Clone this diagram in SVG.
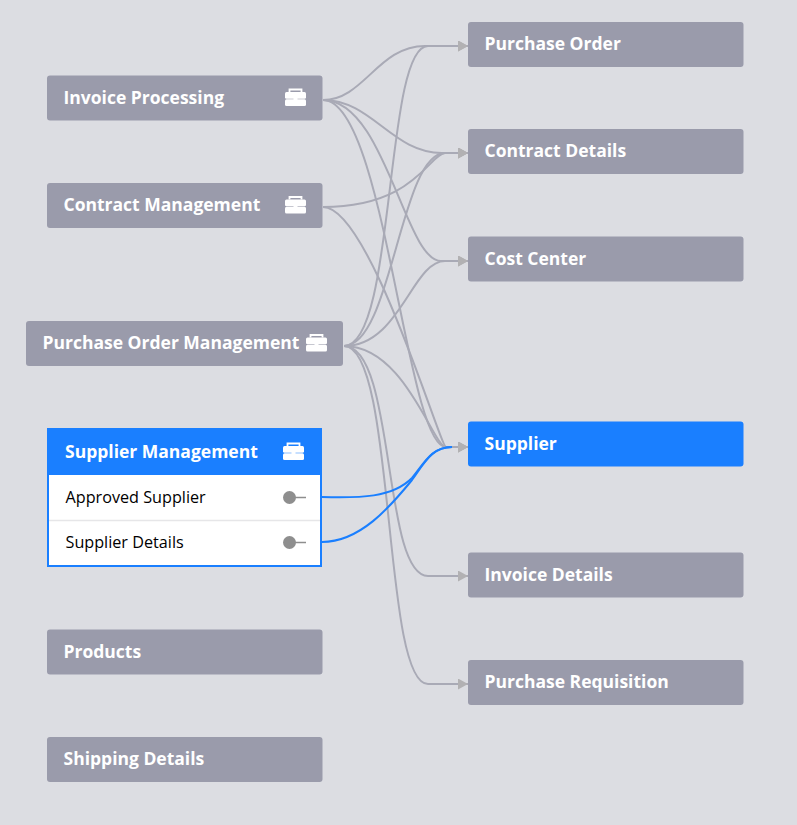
<svg xmlns="http://www.w3.org/2000/svg" width="797" height="825" viewBox="0 0 797 825">
<style>
text{font-family:"Open Sans","Noto Sans","Liberation Sans",sans-serif}
.box{fill:#9a9bab}
.t{fill:#fff;font-size:17.5px;font-weight:700}
.r{fill:#000;font-size:16.2px}
.c{fill:none;stroke:#a9aab6;stroke-width:2}
.b{fill:none;stroke:#1a7fff;stroke-width:2}
.key{fill:#8e8e8e}
.keyl{stroke:#8e8e8e;stroke-width:1.5}
</style>
<defs>
<marker id="arrow" markerUnits="userSpaceOnUse" markerWidth="11" markerHeight="11" refX="10" refY="5.500" orient="auto"><path d="M0 0L10 5.500L0 11Z" fill="#b2b1b3"/></marker>
<g id="case"><path d="M-6 -6V-8.500H6V-6" fill="none" stroke="#fff" stroke-width="1.800"/><rect x="-10.500" y="-6" width="21" height="6.800" rx="1.500" fill="#fff"/><rect x="-10.500" y="1.300" width="21" height="6.700" rx="1.500" fill="#fff"/><rect x="-2" y="-0.300" width="4" height="2.600" fill="#fff"/></g>
</defs>
<rect width="797" height="825" fill="#dcdde2"/>
<g id="connectors">
<path class="c" d="M323 100C364 100 378 46 425 46H468" marker-end="url(#arrow)"/>
<path class="c" d="M323 100C372 100 392 153 442 153H468" marker-end="url(#arrow)"/>
<path class="c" d="M323 100C385 100 405 261 441 261H468" marker-end="url(#arrow)"/>
<path class="c" d="M323 100C385 100 406 447 446 447H468" marker-end="url(#arrow)"/>
<path class="c" d="M323 207C415 207 430 153 445 153H468" marker-end="url(#arrow)"/>
<path class="c" d="M323 207C370 207 440 447 446 447H468" marker-end="url(#arrow)"/>
<path class="c" d="M344 346C396 346 384 46 428 46H468" marker-end="url(#arrow)"/>
<path class="c" d="M344 346C392 346 400 153 445 153H468" marker-end="url(#arrow)"/>
<path class="c" d="M344 346C400 346 412 261 445 261H468" marker-end="url(#arrow)"/>
<path class="c" d="M344 346C405 346 433 447 446 447H468" marker-end="url(#arrow)"/>
<path class="c" d="M344 346C396 346 382 576 428 576H468" marker-end="url(#arrow)"/>
<path class="c" d="M344 346C396 346 382 684 428 684H468" marker-end="url(#arrow)"/>
<path class="b" d="M322 497C360 498 392 498 412 478C425 462 432 447 452 447"/>
<path class="b" d="M322 542C360 542 390 507 412 480C425 462 432 447 452 447"/>
</g>
<g id="invoice-processing"><rect class="box" x="47" y="75.500" width="275.500" height="45" rx="3"/><text class="t" x="63.500" y="103.500">Invoice Processing</text><use href="#case" x="295.500" y="98"/></g>
<g id="contract-management"><rect class="box" x="47" y="183" width="275.500" height="45" rx="3"/><text class="t" x="63.500" y="211">Contract Management</text><use href="#case" x="295.500" y="205.500"/></g>
<g id="purchase-order-management"><rect class="box" x="26" y="321" width="317" height="45" rx="3"/><text class="t" x="42.500" y="349">Purchase Order Management</text><use href="#case" x="316.500" y="343.500"/></g>
<g id="supplier-management"><rect x="48" y="429" width="273" height="137" fill="#fff" stroke="#1a7fff" stroke-width="2"/><rect x="47" y="428" width="275" height="47" fill="#1a7fff"/><line x1="49" y1="520.500" x2="320" y2="520.500" stroke="#e6e6e8" stroke-width="1.500"/><text class="t" x="65" y="458">Supplier Management</text><use href="#case" x="293.500" y="452"/><text class="r" x="65.500" y="503">Approved Supplier</text><circle class="key" cx="289.500" cy="497.500" r="6.500"/><line class="keyl" x1="295" y1="497.500" x2="306" y2="497.500"/><text class="r" x="65.500" y="548">Supplier Details</text><circle class="key" cx="289.500" cy="542.500" r="6.500"/><line class="keyl" x1="295" y1="542.500" x2="306" y2="542.500"/></g>
<g id="products"><rect class="box" x="47" y="629.500" width="275.500" height="45" rx="3"/><text class="t" x="63.500" y="657.500">Products</text></g>
<g id="shipping-details"><rect class="box" x="47" y="737" width="275.500" height="45" rx="3"/><text class="t" x="63.500" y="765">Shipping Details</text></g>
<g id="purchase-order"><rect class="box" x="468" y="22" width="275.500" height="45" rx="3"/><text class="t" x="484.500" y="50">Purchase Order</text></g>
<g id="contract-details"><rect class="box" x="468" y="129" width="275.500" height="45" rx="3"/><text class="t" x="484.500" y="157">Contract Details</text></g>
<g id="cost-center"><rect class="box" x="468" y="236.500" width="275.500" height="45" rx="3"/><text class="t" x="484.500" y="264.500">Cost Center</text></g>
<g id="supplier"><rect x="468" y="421.500" width="275.500" height="45" rx="3" fill="#1a7fff"/><text class="t" x="484.500" y="449.500">Supplier</text></g>
<g id="invoice-details"><rect class="box" x="468" y="552.500" width="275.500" height="45" rx="3"/><text class="t" x="484.500" y="580.500">Invoice Details</text></g>
<g id="purchase-requisition"><rect class="box" x="468" y="660" width="275.500" height="45" rx="3"/><text class="t" x="484.500" y="688">Purchase Requisition</text></g>
</svg>
